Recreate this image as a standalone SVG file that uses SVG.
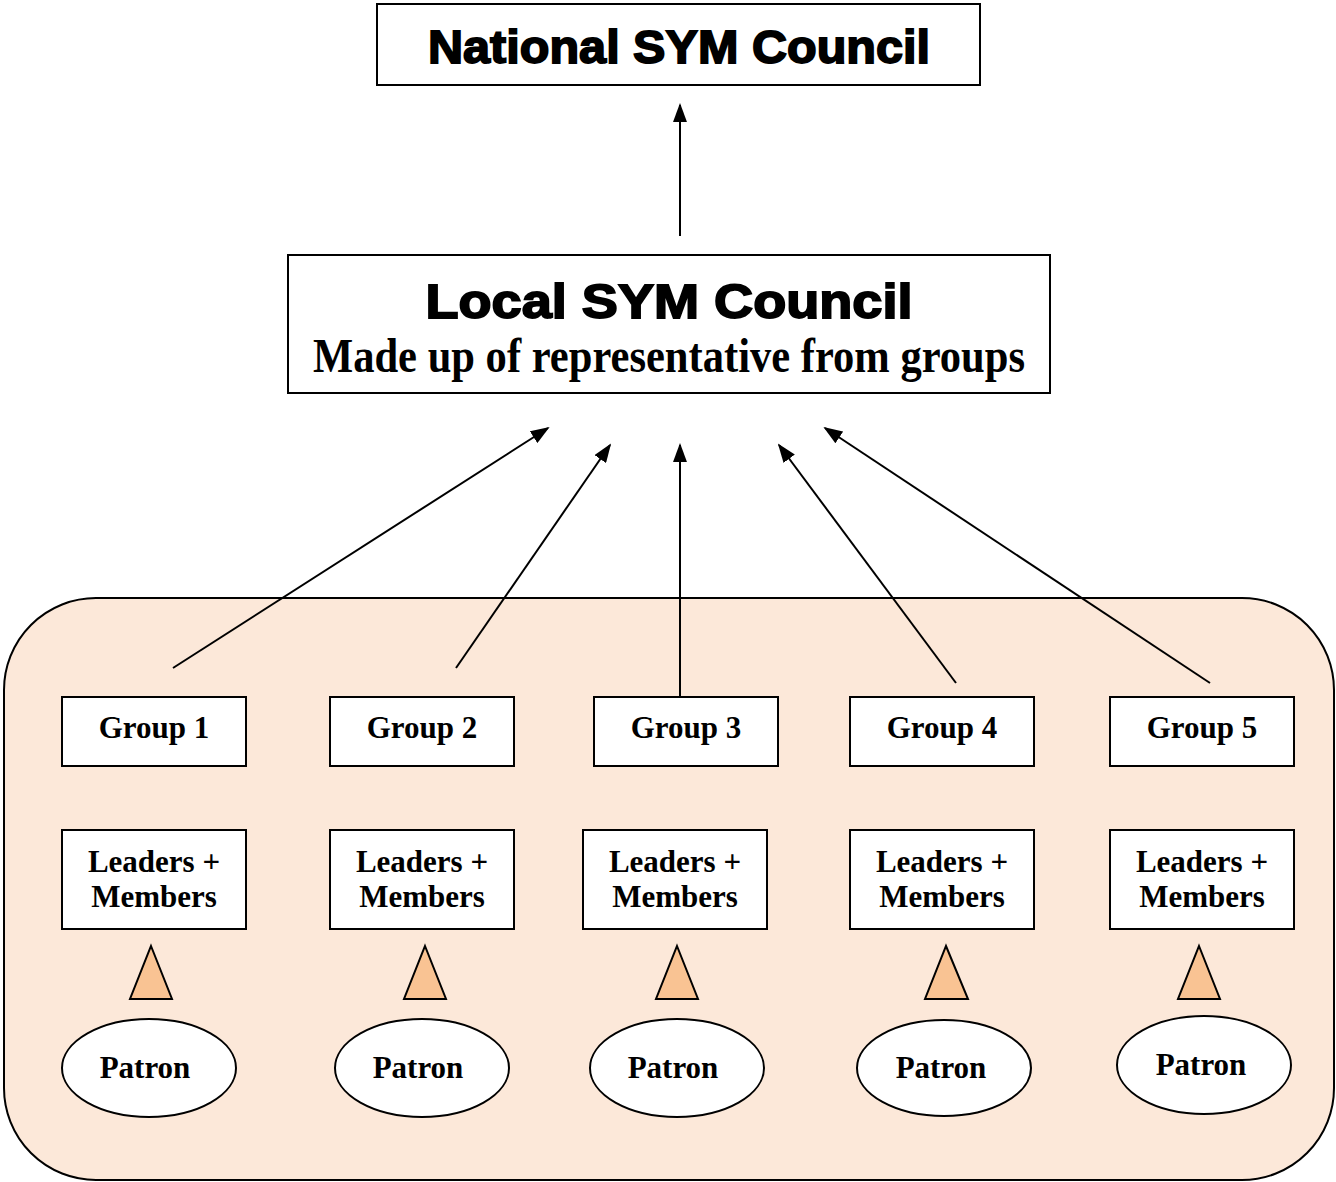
<svg xmlns="http://www.w3.org/2000/svg" width="1336" height="1182" viewBox="0 0 1336 1182">
<style>
.box{fill:#fff;stroke:#000;stroke-width:2}
.head{font-family:"Liberation Sans",Arial,sans-serif;font-weight:bold;fill:#000;stroke:#000;stroke-width:1.8;text-anchor:middle}
.t{font-family:"Liberation Serif","Times New Roman",serif;font-weight:bold;fill:#000;text-anchor:middle}
.g{font-size:31px}
.tri{fill:#F9C393;stroke:#000;stroke-width:2}
.conn line{stroke:#000;stroke-width:2;marker-end:url(#ah)}
</style>
<defs>
<marker id="ah" viewBox="0 0 10 10" refX="9" refY="5" markerWidth="19" markerHeight="14" markerUnits="userSpaceOnUse" orient="auto" preserveAspectRatio="none">
<path d="M0,0 L10,5 L0,10 z" fill="#000"/>
</marker>
</defs>
<rect width="1336" height="1182" fill="#fff"/>
<g id="container">
<rect x="4" y="598" width="1330" height="582" rx="92" ry="92" fill="#FCE8D9" stroke="#000" stroke-width="2"/>
</g>
<g id="national">
<rect class="box" x="377" y="4" width="603" height="81"/>
<text class="head" x="679" y="63" style="font-size:47px" textLength="502" lengthAdjust="spacingAndGlyphs">National SYM Council</text>
</g>
<g id="local">
<rect class="box" x="288" y="255" width="762" height="138"/>
<text class="head" x="669" y="318" style="font-size:48px" textLength="487" lengthAdjust="spacingAndGlyphs">Local SYM Council</text>
<text class="t" x="669" y="372" style="font-size:49px" textLength="712" lengthAdjust="spacingAndGlyphs">Made up of representative from groups</text>
</g>
<g id="connectors" class="conn">
<line x1="680" y1="236" x2="680" y2="105"/>
<line x1="173" y1="668" x2="548" y2="428"/>
<line x1="456" y1="668" x2="610" y2="445"/>
<line x1="680" y1="696" x2="680" y2="445"/>
<line x1="956" y1="683" x2="779" y2="445"/>
<line x1="1210" y1="683" x2="825" y2="428"/>
</g>
<g id="group1">
<rect class="box" x="62" y="697" width="184" height="69"/>
<text class="t g" x="154" y="738">Group 1</text>
</g>
<g id="group2">
<rect class="box" x="330" y="697" width="184" height="69"/>
<text class="t g" x="422" y="738">Group 2</text>
</g>
<g id="group3">
<rect class="box" x="594" y="697" width="184" height="69"/>
<text class="t g" x="686" y="738">Group 3</text>
</g>
<g id="group4">
<rect class="box" x="850" y="697" width="184" height="69"/>
<text class="t g" x="942" y="738">Group 4</text>
</g>
<g id="group5">
<rect class="box" x="1110" y="697" width="184" height="69"/>
<text class="t g" x="1202" y="738">Group 5</text>
</g>
<g id="members1">
<rect class="box" x="62" y="830" width="184" height="99"/>
<text class="t g" x="154" y="872">Leaders +</text>
<text class="t g" x="154" y="907">Members</text>
</g>
<g id="members2">
<rect class="box" x="330" y="830" width="184" height="99"/>
<text class="t g" x="422" y="872">Leaders +</text>
<text class="t g" x="422" y="907">Members</text>
</g>
<g id="members3">
<rect class="box" x="583" y="830" width="184" height="99"/>
<text class="t g" x="675" y="872">Leaders +</text>
<text class="t g" x="675" y="907">Members</text>
</g>
<g id="members4">
<rect class="box" x="850" y="830" width="184" height="99"/>
<text class="t g" x="942" y="872">Leaders +</text>
<text class="t g" x="942" y="907">Members</text>
</g>
<g id="members5">
<rect class="box" x="1110" y="830" width="184" height="99"/>
<text class="t g" x="1202" y="872">Leaders +</text>
<text class="t g" x="1202" y="907">Members</text>
</g>
<g id="tri1"><polygon class="tri" points="151,946 172,999 130,999"/></g>
<g id="tri2"><polygon class="tri" points="425,946 446,999 404,999"/></g>
<g id="tri3"><polygon class="tri" points="677,946 698,999 656,999"/></g>
<g id="tri4"><polygon class="tri" points="946,946 968,999 925,999"/></g>
<g id="tri5"><polygon class="tri" points="1199,946 1220,999 1178,999"/></g>
<g id="patron1">
<ellipse class="box" cx="149" cy="1068" rx="87" ry="49"/>
<text class="t g" x="145" y="1078">Patron</text>
</g>
<g id="patron2">
<ellipse class="box" cx="422" cy="1068" rx="87" ry="49"/>
<text class="t g" x="418" y="1078">Patron</text>
</g>
<g id="patron3">
<ellipse class="box" cx="677" cy="1068" rx="87" ry="49"/>
<text class="t g" x="673" y="1078">Patron</text>
</g>
<g id="patron4">
<ellipse class="box" cx="944" cy="1068" rx="87" ry="48"/>
<text class="t g" x="941" y="1078">Patron</text>
</g>
<g id="patron5">
<ellipse class="box" cx="1204" cy="1065" rx="87" ry="49"/>
<text class="t g" x="1201" y="1075">Patron</text>
</g>
</svg>
